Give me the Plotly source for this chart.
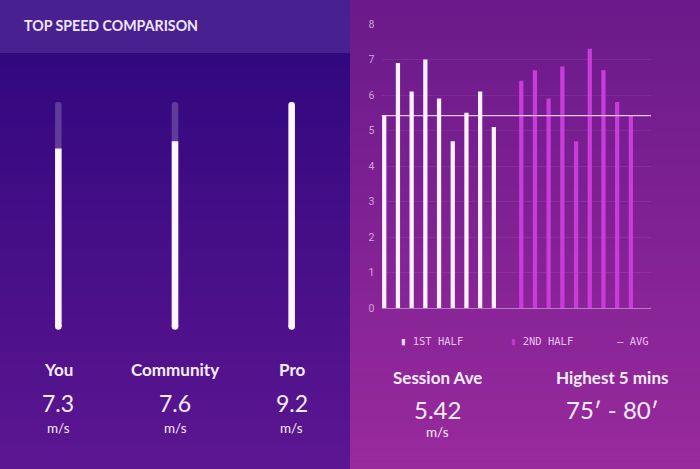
import plotly.graph_objects as go

# ---------------- data ----------------
players = ["You", "Community", "Pro"]
top_speeds = [7.3, 7.6, 9.2]
speed_unit = "m/s"

first_half = [5.42, 6.9, 6.1, 7.0, 5.9, 4.7, 5.5, 6.1, 5.1]
second_half = [6.4, 6.7, 5.9, 6.8, 4.7, 7.3, 6.7, 5.8, 5.42]
session_avg = 5.42
y_ticks = [0, 1, 2, 3, 4, 5, 6, 7, 8]
highest_window = "75′ - 80′"

W, H = 700, 469


def px_x(p):
    return p / W


def px_y(p):
    return 1 - p / H


def blend(c1, c2, t):
    return "rgb(%d,%d,%d)" % tuple(round(a + (b - a) * t) for a, b in zip(c1, c2))


shapes = []
N = 60
top_l, bot_l = (50, 8, 127), (92, 22, 145)
y0p, y1p = 53, H
for i in range(N):
    a = y0p + (y1p - y0p) * i / N
    b = y0p + (y1p - y0p) * (i + 1) / N + 0.6
    shapes.append(dict(type="rect", xref="paper", yref="paper", x0=0, x1=px_x(350),
                       y0=px_y(min(b, H)), y1=px_y(a), fillcolor=blend(top_l, bot_l, i / (N - 1)),
                       line=dict(width=0), layer="below"))
shapes.append(dict(type="rect", xref="paper", yref="paper", x0=0, x1=px_x(350),
                   y0=px_y(53), y1=1, fillcolor="#48208f", line=dict(width=0), layer="below"))
top_r, bot_r = (106, 26, 138), (152, 42, 157)
for i in range(N):
    a = H * i / N
    b = H * (i + 1) / N + 0.6
    shapes.append(dict(type="rect", xref="paper", yref="paper", x0=px_x(350), x1=1,
                       y0=px_y(min(b, H)), y1=px_y(a), fillcolor=blend(top_r, bot_r, i / (N - 1)),
                       line=dict(width=0), layer="below"))

fig = go.Figure()

# ---------------- left: top speed comparison ----------------
max_speed = max(top_speeds)
fig.add_trace(go.Bar(x=players, y=[max_speed] * len(players), xaxis="x2", yaxis="y2",
                     width=0.056, marker=dict(color="rgba(255,255,255,0.2)", cornerradius=3,
                                              line=dict(width=0)),
                     showlegend=False, hoverinfo="skip"))
fig.add_trace(go.Bar(x=players, y=top_speeds, xaxis="x2", yaxis="y2",
                     width=0.056, marker=dict(color="#fdf6ff", cornerradius=3, line=dict(width=0)),
                     showlegend=False))
fig.add_trace(go.Scatter(x=players, y=[0.02] * len(players), xaxis="x2", yaxis="y2",
                         mode="markers", marker=dict(color="#fdf6ff", size=6.5, line=dict(width=0)),
                         showlegend=False, hoverinfo="skip", cliponaxis=False))

# ---------------- right: per-interval bars ----------------
x_first = list(range(len(first_half)))
x_second = [len(first_half) + 1 + i for i in range(len(second_half))]
fig.add_trace(go.Bar(x=x_first, y=first_half, width=0.31,
                     marker=dict(color="#fff2ff", line=dict(width=0)), showlegend=False))
fig.add_trace(go.Bar(x=x_second, y=second_half, width=0.31,
                     marker=dict(color="#cb3bdb", line=dict(width=0)), showlegend=False))
fig.add_trace(go.Scatter(x=[-0.2, x_second[-1] + 1.47], y=[session_avg, session_avg],
                         mode="lines", line=dict(color="rgba(255,240,255,0.8)", width=1.3),
                         showlegend=False, hoverinfo="skip"))

txt = "#f6eeff"
ann = []
ann.append(dict(text="<b>TOP SPEED COMPARISON</b>", xref="paper", yref="paper",
                x=px_x(22), y=px_y(26), xanchor="left", yanchor="middle", showarrow=False,
                font=dict(family="Lato", size=14.2, color="#efe6ff")))
for name, val in zip(players, top_speeds):
    ann.append(dict(text="<b>%s</b>" % name, xref="x2", yref="paper", x=name, y=px_y(369.5),
                    xanchor="center", yanchor="middle", showarrow=False,
                    font=dict(family="Lato", size=17, color=txt)))
    ann.append(dict(text="%.1f" % val, xref="x2", yref="paper", x=name, y=px_y(403),
                    xanchor="center", yanchor="middle", showarrow=False,
                    font=dict(family="Lato", size=23, color=txt)))
    ann.append(dict(text=speed_unit, xref="x2", yref="paper", x=name, y=px_y(428),
                    xanchor="center", yanchor="middle", showarrow=False,
                    font=dict(family="Lato", size=13.5, color=txt)))

leg_font = dict(family="DejaVu Sans Mono", size=10.5, color="rgba(245,215,250,0.9)")
ann.append(dict(text="<span style='color:#fff2ff'>▮</span> 1ST HALF", xref="paper", yref="paper",
                x=px_x(398), y=px_y(341), xanchor="left", yanchor="middle", showarrow=False, font=leg_font))
ann.append(dict(text="<span style='color:#cb3bdb'>▮</span> 2ND HALF", xref="paper", yref="paper",
                x=px_x(508), y=px_y(341), xanchor="left", yanchor="middle", showarrow=False, font=leg_font))
ann.append(dict(text="— AVG", xref="paper", yref="paper",
                x=px_x(615), y=px_y(341), xanchor="left", yanchor="middle", showarrow=False, font=leg_font))

ann.append(dict(text="<b>Session Ave</b>", xref="paper", yref="paper", x=px_x(437), y=px_y(377.5),
                xanchor="center", yanchor="middle", showarrow=False,
                font=dict(family="Lato", size=17, color=txt)))
ann.append(dict(text="%.2f" % session_avg, xref="paper", yref="paper", x=px_x(437), y=px_y(409.5),
                xanchor="center", yanchor="middle", showarrow=False,
                font=dict(family="Lato", size=24, color=txt)))
ann.append(dict(text=speed_unit, xref="paper", yref="paper", x=px_x(437), y=px_y(432),
                xanchor="center", yanchor="middle", showarrow=False,
                font=dict(family="Lato", size=13.5, color=txt)))
ann.append(dict(text="<b>Highest 5 mins</b>", xref="paper", yref="paper", x=px_x(612), y=px_y(377.5),
                xanchor="center", yanchor="middle", showarrow=False,
                font=dict(family="Lato", size=17, color=txt)))
ann.append(dict(text=highest_window, xref="paper", yref="paper", x=px_x(612), y=px_y(409.5),
                xanchor="center", yanchor="middle", showarrow=False,
                font=dict(family="Lato", size=24, color=txt)))

fig.update_layout(
    template="none",
    width=W, height=H,
    autosize=False,
    margin=dict(l=0, r=0, t=0, b=0, pad=0, autoexpand=False),
    paper_bgcolor="#5a1690",
    plot_bgcolor="rgba(0,0,0,0)",
    barmode="overlay",
    showlegend=False,
    shapes=shapes,
    annotations=ann,
    xaxis=dict(domain=[px_x(381.5), px_x(651)], range=[-0.2, x_second[-1] + 1.47],
               showgrid=False, zeroline=False, showticklabels=False, fixedrange=True,
               automargin=False, showline=False, ticks=""),
    yaxis=dict(domain=[px_y(308), px_y(24)], range=[0, 8], tickvals=y_ticks,
               showgrid=True, gridcolor="rgba(255,255,255,0.07)", gridwidth=1,
               zeroline=True, zerolinecolor="rgba(255,220,255,0.45)", zerolinewidth=1,
               tickfont=dict(family="Roboto", size=10.5, color="rgba(235,195,240,0.8)"),
               ticks="", ticklabelstandoff=6, fixedrange=True, automargin=False, showline=False),
    xaxis2=dict(domain=[0, px_x(350)], anchor="y2", showgrid=False, zeroline=False,
                showticklabels=False, categoryorder="array", categoryarray=players,
                automargin=False, showline=False, ticks=""),
    yaxis2=dict(domain=[px_y(327), px_y(102)], anchor="x2", range=[0, max_speed],
                showgrid=False, zeroline=False, showticklabels=False, automargin=False,
                showline=False, ticks=""),
)

fig.write_html("out.html", config={"displayModeBar": False, "responsive": False},
               post_script="document.body.style.margin='0';document.body.style.overflow='hidden';")
